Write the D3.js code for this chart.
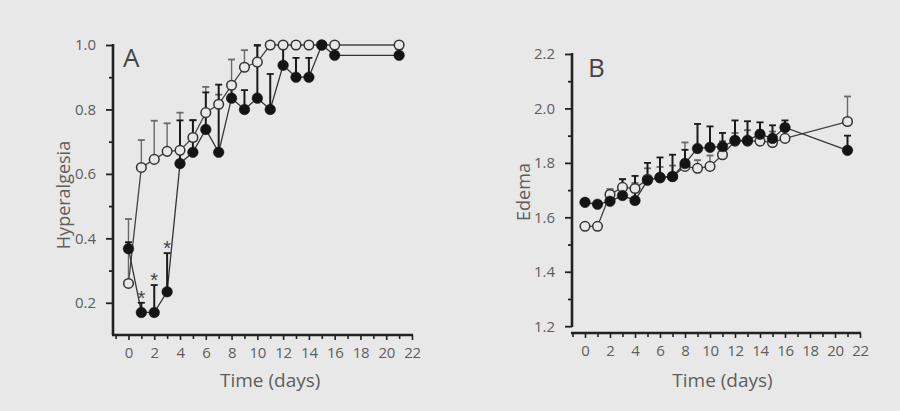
<!DOCTYPE html>
<html>
<head>
<meta charset="utf-8">
<script src="https://cdn.jsdelivr.net/npm/d3@7"></script>
<style>
  body { margin: 0; background: #e8e8e8; }
  text { font-family: "Open Sans", "Liberation Sans", sans-serif; }
</style>
</head>
<body>
<svg id="chart" width="900" height="411"></svg>
<script>
const days = [0, 1, 2, 3, 4, 5, 6, 7, 8, 9, 10, 11, 12, 13, 14, 15, 16, 21]

// panel A - hyperalgesia
const openA = [0.26, 0.62, 0.645, 0.67, 0.673, 0.713, 0.79, 0.816, 0.875, 0.931, 0.947, 1, 1, 1, 1, 1, 1, 1]
const openAErr = [0.2, 0.085, 0.12, 0.087, 0.117, 0.053, 0.08, 0.03, 0.08, 0.053, 0.05, 0, 0, 0, 0, 0, 0, 0]
const filledA = [0.368, 0.17, 0.17, 0.234, 0.632, 0.667, 0.738, 0.667, 0.835, 0.80, 0.835, 0.80, 0.937, 0.90, 0.90, 1.0, 0.968, 0.968]
const filledAErr = [0.02, 0.03, 0.085, 0.12, 0.134, 0.1, 0.115, 0.21, 0.05, 0.06, 0.165, 0.11, 0.06, 0.06, 0.06, 0, 0.02, 0.02]
const starDaysA = [1, 2, 3]

// panel B - edema
const openB = [1.567, 1.567, 1.684, 1.71, 1.706, 1.74, 1.745, 1.75, 1.787, 1.78, 1.787, 1.83, 1.88, 1.88, 1.88, 1.875, 1.89, 1.952]
const openBErr = [0.01, 0.01, 0.02, 0.03, 0.02, 0.04, 0.04, 0.04, 0.088, 0.03, 0.04, 0.05, 0.03, 0.04, 0.04, 0.04, 0.03, 0.092]
const filledB = [1.655, 1.648, 1.659, 1.68, 1.662, 1.736, 1.747, 1.75, 1.798, 1.853, 1.857, 1.86, 1.883, 1.883, 1.905, 1.89, 1.93, 1.846]
const filledBErr = [0.01, 0.01, 0.03, 0.06, 0.09, 0.064, 0.073, 0.08, 0.05, 0.09, 0.077, 0.05, 0.073, 0.07, 0.044, 0.048, 0.026, 0.054]

const xTicks = [0, 2, 4, 6, 8, 10, 12, 14, 16, 18, 20, 22]
const xMinor = [-1, 1, 3, 5, 7, 9, 11, 13, 15, 17, 19, 21]
const yTicksA = [0.2, 0.4, 0.6, 0.8, 1.0]
const yMinorA = [0.3, 0.5, 0.7, 0.9]
const yTicksB = [1.2, 1.4, 1.6, 1.8, 2.0, 2.2]
const yMinorB = [1.3, 1.5, 1.7, 1.9, 2.1]

const svg = d3.select('#chart')
svg.append('rect').attr('width', 900).attr('height', 411).attr('fill', '#e8e8e8')

const ink = '#222'
const labelColor = '#5e5e5e'

function drawPanel(p) {
  const g = svg.append('g')
  const x = d3.scaleLinear().domain(p.xDomain).range(p.xRange)
  const y = d3.scaleLinear().domain(p.yDomain).range(p.yRange)
  const bottom = p.yRange[0]
  const left = p.xRange[0]

  // x axis: major + minor ticks
  const xMaj = g.append('g').attr('transform', `translate(0,${bottom})`)
    .call(d3.axisBottom(x).tickValues(xTicks).tickSize(5).tickPadding(7).tickFormat(d3.format('d')))
  const xMin = g.append('g').attr('transform', `translate(0,${bottom})`)
    .call(d3.axisBottom(x).tickValues(xMinor).tickSize(4).tickFormat(''))
  ;[xMaj, xMin].forEach(a => {
    a.select('.domain').remove()
    a.selectAll('line').attr('stroke', ink).attr('stroke-width', 1.6)
  })
  xMaj.selectAll('text').attr('fill', labelColor).style('font-size', '15px')
    .attr('letter-spacing', '-0.3px')
  g.append('line')
    .attr('x1', left - 1).attr('x2', x(22) + 1)
    .attr('y1', bottom).attr('y2', bottom)
    .attr('stroke', ink).attr('stroke-width', 2.6)

  // y axis
  const yMaj = g.append('g').attr('transform', `translate(${left},0)`)
    .call(d3.axisLeft(y).tickValues(p.yTicks).tickSize(7).tickPadding(10).tickFormat(d3.format('.1f')))
  const yMin = g.append('g').attr('transform', `translate(${left},0)`)
    .call(d3.axisLeft(y).tickValues(p.yMinor).tickSize(4).tickFormat(''))
  ;[yMaj, yMin].forEach(a => {
    a.select('.domain').remove()
    a.selectAll('line').attr('stroke', ink).attr('stroke-width', 1.8)
  })
  yMaj.selectAll('text').attr('fill', labelColor).style('font-size', '15px')
  g.append('line')
    .attr('x1', left).attr('x2', left)
    .attr('y1', p.yAxisBottom).attr('y2', y(p.yTicks[p.yTicks.length - 1]) - 1)
    .attr('stroke', ink).attr('stroke-width', 2.6)

  // titles
  g.append('text')
    .attr('x', (x(0) + x(22)) / 2).attr('y', 387)
    .attr('text-anchor', 'middle').attr('fill', labelColor)
    .style('font-size', '19px')
    .text('Time (days)')
  g.append('text')
    .attr('transform', `translate(${p.yTitleX},${p.yTitleY}) rotate(-90)`)
    .attr('text-anchor', 'middle').attr('fill', labelColor)
    .style('font-size', '18px')
    .text(p.yTitle)
  g.append('text')
    .attr('x', p.letterX).attr('y', p.letterY)
    .attr('fill', '#444').style('font-size', '26px')
    .text(p.letter)

  const line = d3.line().x((d, i) => x(days[i])).y(d => y(d))

  // connecting lines
  g.append('path').datum(p.open).attr('d', line)
    .attr('fill', 'none').attr('stroke', '#444').attr('stroke-width', 1.3)
  g.append('path').datum(p.filled).attr('d', line)
    .attr('fill', 'none').attr('stroke', '#333').attr('stroke-width', 1.3)

  // error bars (upper only)
  function errBars(vals, errs, color, w) {
    const eg = g.append('g')
    vals.forEach((v, i) => {
      if (!errs[i]) return
      const cx = x(days[i])
      eg.append('line').attr('x1', cx).attr('x2', cx)
        .attr('y1', y(v)).attr('y2', y(v + errs[i]))
        .attr('stroke', color).attr('stroke-width', w)
      eg.append('line').attr('x1', cx - 3.5).attr('x2', cx + 3.5)
        .attr('y1', y(v + errs[i])).attr('y2', y(v + errs[i]))
        .attr('stroke', color).attr('stroke-width', 1.8)
    })
  }
  errBars(p.open, p.openErr, '#6a6a6a', 1.4)
  errBars(p.filled, p.filledErr, '#1a1a1a', 2)

  // markers
  g.append('g').selectAll('circle').data(p.open).join('circle')
    .attr('cx', (d, i) => x(days[i])).attr('cy', d => y(d)).attr('r', 4.8)
    .attr('fill', '#e8e8e8').attr('stroke', '#333').attr('stroke-width', 1.5)
  g.append('g').selectAll('circle').data(p.filled).join('circle')
    .attr('cx', (d, i) => x(days[i])).attr('cy', d => y(d)).attr('r', 5.3)
    .attr('fill', '#141414').attr('stroke', '#141414').attr('stroke-width', 0.5)

  // significance stars
  ;(p.stars || []).forEach(dday => {
    const i = days.indexOf(dday)
    g.append('text')
      .attr('x', x(dday)).attr('y', y(p.filled[i] + p.filledErr[i]) + 2)
      .attr('text-anchor', 'middle').attr('fill', '#444')
      .style('font-family', '"Liberation Sans", sans-serif')
      .style('font-size', '20px')
      .text('*')
  })
}

drawPanel({
  xDomain: [-1.2, 22], xRange: [113, 412],
  yDomain: [0.1, 1.0], yRange: [335, 45],
  yAxisBottom: 335,
  yTicks: yTicksA, yMinor: yMinorA,
  open: openA, openErr: openAErr, filled: filledA, filledErr: filledAErr,
  stars: starDaysA,
  yTitle: 'Hyperalgesia', yTitleX: 70, yTitleY: 195,
  letter: 'A', letterX: 123, letterY: 67
})

drawPanel({
  xDomain: [-1.04, 22], xRange: [572, 860],
  yDomain: [1.175, 2.2], yRange: [333, 54],
  yAxisBottom: 327,
  yTicks: yTicksB, yMinor: yMinorB,
  open: openB, openErr: openBErr, filled: filledB, filledErr: filledBErr,
  yTitle: 'Edema', yTitleX: 530, yTitleY: 192,
  letter: 'B', letterX: 588, letterY: 77
})
</script>
</body>
</html>
